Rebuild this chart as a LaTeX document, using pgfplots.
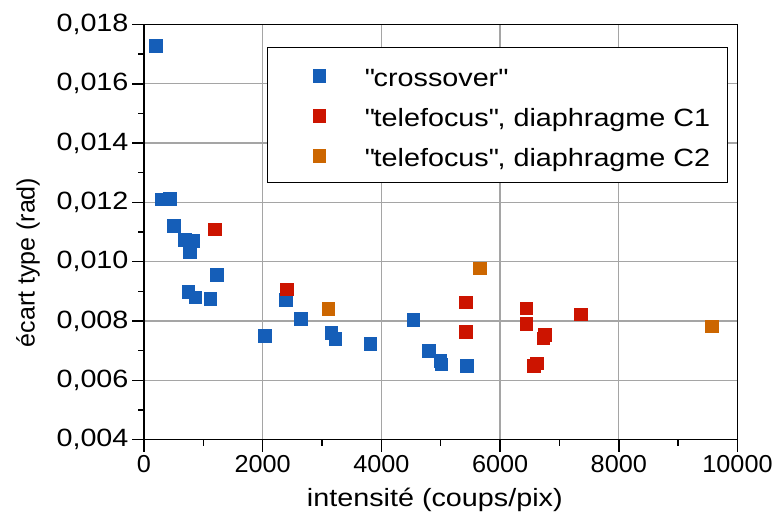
\documentclass[border=0pt]{standalone}
\usepackage{fontspec}
\setmainfont{Liberation Sans}[FakeStretch=1.15]
\newfontfamily\plainfont{Liberation Sans}
\newfontfamily\xtfont{Liberation Sans}[FakeStretch=1.03]
\usepackage{pgfplots}
\pgfplotsset{compat=1.18}
\definecolor{cblue}{RGB}{21,94,184}
\definecolor{cred}{RGB}{204,20,0}
\definecolor{corange}{RGB}{204,102,0}
\definecolor{cgrid}{RGB}{165,165,165}
\newcommand{\bigf}{\fontsize{25pt}{30pt}\selectfont}
\newcommand{\dq}{\XeTeXglyph\XeTeXcharglyph"22\relax}
\begin{document}
\begin{tikzpicture}
\begin{axis}[name=ax, scale only axis, width=593.5pt, height=415.1pt,
  xmin=0, xmax=10000, ymin=0.004, ymax=0.018,
  xtick={0,2000,4000,6000,8000,10000},
  ytick={0.004,0.006,0.008,0.010,0.012,0.014,0.016,0.018},
  minor x tick num=1, minor y tick num=1,
  tick align=outside, xtick pos=bottom, ytick pos=left,
  major tick length=12pt, minor tick length=6pt,
  every tick/.style={black, line width=1.4pt},
  axis line style={black, line width=1.6pt},
  grid=major, major grid style={cgrid, line width=1.3pt},
  scaled y ticks=false, scaled x ticks=false,
  /pgf/number format/assume math mode=true,
  xticklabel style={font=\xtfont\fontsize{24.5pt}{29pt}\selectfont, /pgf/number format/1000 sep={}},
  yticklabel style={font=\bigf, /pgf/number format/.cd, fixed, fixed zerofill, precision=3, use comma},
  xlabel={intensité (coups/pix)},
  ylabel={\plainfont écart type (rad)},
  xlabel style={font=\bigf, at={(axis description cs:0.49,-0.1617)}, anchor=base},
  ylabel style={font=\bigf, at={(axis description cs:-0.1955,0.4266)}, anchor=center},
  legend style={at={(axis description cs:0.2078,0.9465)}, anchor=north west,
    draw=black, line width=1pt, font=\bigf,
    inner xsep=17pt, inner ysep=12pt, row sep=9pt,
    cells={anchor=base west},
    nodes={inner sep=0pt, text height=27pt, text depth=4pt}},
  legend image code/.code={\path (-34pt,0pt) (45pt,0pt); \draw[#1] plot coordinates {(0pt,10.7pt)};},
  every axis plot/.append style={only marks, mark=square*, mark size=6.3pt},
]
\addplot[mark options={draw=cblue, fill=cblue, line width=0.4pt}] coordinates {
(202,0.01728) (303,0.01211) (438,0.01213) (505,0.01121) (686,0.01074)
(831,0.01071) (775,0.01032) (1225,0.00956) (746,0.00899) (864,0.00880)
(1117,0.00875) (2388,0.00872) (2640,0.00808) (2034,0.00750) (3151,0.00760)
(3223,0.00740) (3813,0.00723) (4537,0.00804) (4797,0.00700) (4990,0.00667)
(5005,0.00654) (5437,0.00650)
};
\addlegendentry{\dq crossover\dq}
\addplot[mark options={draw=cred, fill=cred, line width=0.4pt}] coordinates {
(1191,0.01110) (2404,0.00907) (5425,0.00864) (5425,0.00764) (6441,0.00843)
(6441,0.00790) (6751,0.00753) (6723,0.00742) (6617,0.00658) (6571,0.00650)
(7358,0.00823)
};
\addlegendentry{\dq telefocus\dq, diaphragme C1}
\addplot[mark options={draw=corange, fill=corange, line width=0.4pt}] coordinates {
(3105,0.00841) (5656,0.00978) (9565,0.00782)
};
\addlegendentry{\dq telefocus\dq, diaphragme C2}
\end{axis}
\pgfresetboundingbox
\path ([xshift=-144pt,yshift=-83.4pt]ax.south west) rectangle ([xshift=35.5pt,yshift=24.5pt]ax.north east);
\end{tikzpicture}
\end{document}
